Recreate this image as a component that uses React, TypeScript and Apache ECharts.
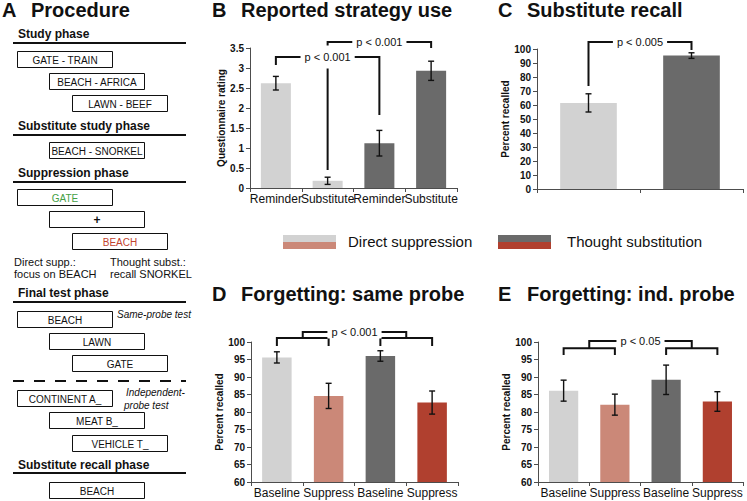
import { useEffect, useRef } from 'react';
import * as echarts from 'echarts';

const FONT = '"Liberation Sans", Arial, Helvetica, sans-serif';
const INK = '#111111';
const AXIS = '#4d4d4d';

// ---------- data ----------
// B: Reported strategy use
const strategyCategories = ['Reminder', 'Substitute', 'Reminder', 'Substitute'];
const strategyMeans = [2.62, 0.18, 1.12, 2.93];
const strategyErrors = [0.17, 0.09, 0.32, 0.24];
// [leftCatA, leftCatB, rightCatA, rightCatB, leftEndY, rightEndY, topY]
const strategyBrackets = [
  [0, 0, 2, 2, 3.075, 1.825, 3.275],
  [1, 1, 3, 3, 0.45, 3.5, 3.65],
];
const strategyBracketLabels = ['p < 0.001', 'p < 0.001'];

// C: Substitute recall
const recallCategories = ['Direct suppression', 'Thought substitution'];
const recallMeans = [61.5, 95.3];
const recallErrors = [6.5, 2.0];
const recallBrackets = [[0, 0, 1, 1, 73.6, 99.3, 105]];
const recallBracketLabels = ['p < 0.005'];

// D: Forgetting, same probe
const forgetCategories = ['Baseline', 'Suppress', 'Baseline', 'Suppress'];
const sameProbeMeans = [95.6, 84.6, 96.0, 82.7];
const sameProbeErrors = [1.6, 3.6, 1.5, 3.3];
const sameProbeBrackets = [
  [0, 0, 1, 1, 98.86, 98.86, 101.14],
  [2, 2, 3, 3, 98.86, 98.86, 101.14],
  [0, 1, 2, 3, 101.14, 101.14, 102.86],
];
const sameProbeBracketLabels = ['', '', 'p < 0.001'];

// E: Forgetting, independent probe
const indProbeMeans = [86.1, 82.1, 89.2, 83.0];
const indProbeErrors = [3.0, 3.0, 4.2, 2.8];
const indProbeBrackets = [
  [0, 0, 1, 1, 96.3, 96.3, 98.2],
  [2, 2, 3, 3, 96.3, 96.3, 98.2],
  [0, 1, 2, 3, 98.2, 98.2, 100.3],
];
const indProbeBracketLabels = ['', '', 'p < 0.05'];

const legendLabels = ['Direct suppression', 'Thought substitution'];

// ---------- styles ----------
const LIGHT_GREY = '#d2d2d2';
const SALMON = '#cb8878';
const DARK_GREY = '#6a6a6a';
const RED = '#b0402f';
const strategyColors = [LIGHT_GREY, LIGHT_GREY, DARK_GREY, DARK_GREY];
const recallColors = [LIGHT_GREY, DARK_GREY];
const forgetColors = [LIGHT_GREY, SALMON, DARK_GREY, RED];

// ---------- procedure diagram (panel A) ----------
const procedurePhases = [
  { title: 'Study phase', y: 34, lineY: 43 },
  { title: 'Substitute study phase', y: 126, lineY: 135 },
  { title: 'Suppression phase', y: 173, lineY: 182 },
  { title: 'Final test phase', y: 293, lineY: 302 },
  { title: 'Substitute recall phase', y: 465, lineY: 473 },
];
const boxCols = [17, 49, 72];
const procedureBoxes = [
  { text: 'GATE - TRAIN', col: 0, y: 51, color: INK, bold: false },
  { text: 'BEACH - AFRICA', col: 1, y: 73, color: INK, bold: false },
  { text: 'LAWN - BEEF', col: 2, y: 95, color: INK, bold: false },
  { text: 'BEACH - SNORKEL', col: 1, y: 142, color: INK, bold: false },
  { text: 'GATE', col: 0, y: 189, color: '#45a045', bold: false },
  { text: '+', col: 1, y: 211, color: INK, bold: true },
  { text: 'BEACH', col: 2, y: 233, color: '#c2432f', bold: false },
  { text: 'BEACH', col: 0, y: 311, color: INK, bold: false },
  { text: 'LAWN', col: 1, y: 333, color: INK, bold: false },
  { text: 'GATE', col: 2, y: 355, color: INK, bold: false },
  { text: 'CONTINENT A_', col: 0, y: 390, color: INK, bold: false },
  { text: 'MEAT B_', col: 1, y: 412, color: INK, bold: false },
  { text: 'VEHICLE T_', col: 2, y: 435, color: INK, bold: false },
  { text: 'BEACH', col: 1, y: 482, color: INK, bold: false },
];
const procedureNotes = [
  { text: 'Direct supp.:', x: 14, y: 262, italic: false },
  { text: 'focus on BEACH', x: 14, y: 274, italic: false },
  { text: 'Thought subst.:', x: 110, y: 262, italic: false },
  { text: 'recall SNORKEL', x: 110, y: 274, italic: false },
  { text: 'Same-probe test', x: 117, y: 314, italic: true },
  { text: 'Independent-', x: 126, y: 392, italic: true },
  { text: 'probe test', x: 124, y: 405, italic: true },
];

const panelTitles = [
  { letter: 'A', text: 'Procedure', x: 2, tx: 31, y: 10 },
  { letter: 'B', text: 'Reported strategy use', x: 212, tx: 241, y: 10 },
  { letter: 'C', text: 'Substitute recall', x: 498, tx: 527, y: 10 },
  { letter: 'D', text: 'Forgetting: same probe', x: 212, tx: 241, y: 294 },
  { letter: 'E', text: 'Forgetting: ind. probe', x: 498, tx: 527, y: 294 },
];

// ---------- render helpers ----------
function errorBarRender(_params: any, api: any) {
  const x = api.value(0);
  const lo = api.coord([x, api.value(1)]);
  const hi = api.coord([x, api.value(2)]);
  const cap = 3;
  const st = { stroke: INK, lineWidth: 1.4 };
  return {
    type: 'group',
    children: [
      { type: 'line', shape: { x1: hi[0], y1: hi[1], x2: lo[0], y2: lo[1] }, style: st },
      { type: 'line', shape: { x1: hi[0] - cap, y1: hi[1], x2: hi[0] + cap, y2: hi[1] }, style: st },
      { type: 'line', shape: { x1: lo[0] - cap, y1: lo[1], x2: lo[0] + cap, y2: lo[1] }, style: st },
    ],
  };
}

function bracketGeom(api: any) {
  const la = api.value(0), lb = api.value(1), ra = api.value(2), rb = api.value(3);
  const yl = api.value(4), yr = api.value(5), yt = api.value(6);
  const pLa = api.coord([la, yt]);
  const pLb = api.coord([lb, yt]);
  const pRa = api.coord([ra, yt]);
  const pRb = api.coord([rb, yt]);
  const xl = (pLa[0] + pLb[0]) / 2;
  const xr = (pRa[0] + pRb[0]) / 2;
  return {
    xl,
    xr,
    yt: pLa[1],
    yl: api.coord([la, yl])[1],
    yr: api.coord([ra, yr])[1],
  };
}

function bracketLineRender(_params: any, api: any) {
  const g = bracketGeom(api);
  return {
    type: 'polyline',
    shape: { points: [[g.xl, g.yl], [g.xl, g.yt], [g.xr, g.yt], [g.xr, g.yr]] },
    style: { stroke: INK, lineWidth: 2, fill: 'none', lineJoin: 'miter', lineCap: 'butt' },
  };
}

function bracketLabelRender(labels: string[], padding: number[]) {
  return (params: any, api: any) => {
    const text = labels[params.dataIndex];
    if (!text) return null;
    const g = bracketGeom(api);
    return {
      type: 'text',
      x: (g.xl + g.xr) / 2,
      y: g.yt,
      style: {
        text,
        fill: INK,
        font: `11px ${FONT}`,
        align: 'center',
        verticalAlign: 'middle',
        backgroundColor: '#ffffff',
        padding,
      },
    };
  };
}

function panelSeries(
  idx: number,
  means: number[],
  errors: number[],
  colors: string[],
  brackets: number[][],
  labels: string[],
  barWidth: string,
  labelPadding: number[]
) {
  return [
    {
      type: 'bar',
      xAxisIndex: idx,
      yAxisIndex: idx,
      barWidth,
      silent: true,
      data: means.map((v, i) => ({ value: v, itemStyle: { color: colors[i] } })),
    },
    {
      type: 'custom',
      xAxisIndex: idx,
      yAxisIndex: idx,
      z: 3,
      silent: true,
      renderItem: errorBarRender,
      data: means.map((m, i) => [i, m - errors[i], m + errors[i]]),
    },
    {
      type: 'custom',
      xAxisIndex: idx,
      yAxisIndex: idx,
      z: 4,
      silent: true,
      renderItem: bracketLineRender,
      data: brackets,
    },
    {
      type: 'custom',
      xAxisIndex: idx,
      yAxisIndex: idx,
      z: 5,
      silent: true,
      renderItem: bracketLabelRender(labels, labelPadding),
      data: brackets,
    },
  ];
}

function makeXAxis(gridIndex: number, data: string[], showLabels: boolean) {
  return {
    type: 'category',
    gridIndex,
    data,
    axisLine: { show: true, lineStyle: { color: AXIS, width: 1 } },
    axisTick: { show: true, length: 4, lineStyle: { color: AXIS } },
    axisLabel: {
      show: showLabels,
      interval: 0,
      hideOverlap: false,
      color: INK,
      fontSize: 12,
      fontFamily: FONT,
      margin: 5,
    },
    splitLine: { show: false },
  };
}

function makeYAxis(gridIndex: number, min: number, max: number, interval: number, name: string, nameGap: number) {
  return {
    type: 'value',
    gridIndex,
    min,
    max,
    interval,
    name,
    nameLocation: 'middle',
    nameGap,
    nameTextStyle: { color: INK, fontSize: 10, fontWeight: 'bold', fontFamily: FONT },
    axisLine: { show: true, lineStyle: { color: AXIS, width: 1 } },
    axisTick: { show: true, length: 4, lineStyle: { color: AXIS } },
    axisLabel: { color: INK, fontSize: 10, fontWeight: 'bold', fontFamily: FONT, margin: 6 },
    splitLine: { show: false },
  };
}

function buildGraphics() {
  const els: any[] = [];
  panelTitles.forEach((t) => {
    els.push({
      type: 'text',
      x: t.x,
      y: t.y,
      style: { text: t.letter, fill: INK, font: `bold 20px ${FONT}`, verticalAlign: 'middle' },
    });
    els.push({
      type: 'text',
      x: t.tx,
      y: t.y,
      style: { text: t.text, fill: INK, font: `bold 20px ${FONT}`, verticalAlign: 'middle' },
    });
  });
  procedurePhases.forEach((p) => {
    els.push({
      type: 'text',
      x: 18,
      y: p.y,
      style: { text: p.title, fill: INK, font: `bold 12px ${FONT}`, verticalAlign: 'middle' },
    });
    els.push({
      type: 'line',
      shape: { x1: 13, y1: p.lineY, x2: 186, y2: p.lineY },
      style: { stroke: INK, lineWidth: 2 },
    });
  });
  procedureBoxes.forEach((b) => {
    const x = boxCols[b.col];
    els.push({
      type: 'rect',
      shape: { x: x + 0.5, y: b.y + 0.5, width: 95, height: 16 },
      style: { fill: '#ffffff', stroke: INK, lineWidth: 1 },
    });
    els.push({
      type: 'text',
      x: x + 48,
      y: b.y + 9,
      style: {
        text: b.text,
        fill: b.color,
        font: `${b.bold ? 'bold 12px' : '10px'} ${FONT}`,
        align: 'center',
        verticalAlign: 'middle',
      },
    });
  });
  procedureNotes.forEach((n) => {
    els.push({
      type: 'text',
      x: n.x,
      y: n.y,
      style: {
        text: n.text,
        fill: INK,
        font: `${n.italic ? 'italic 10px' : '11px'} ${FONT}`,
        verticalAlign: 'middle',
      },
    });
  });
  els.push({
    type: 'line',
    shape: { x1: 13, y1: 381, x2: 186, y2: 381 },
    style: { stroke: INK, lineWidth: 2, lineDash: [11, 10] },
  });
  // legend
  const swatches = [
    { x: 283, top: LIGHT_GREY, bottom: SALMON, tx: 348 },
    { x: 498, top: DARK_GREY, bottom: RED, tx: 567 },
  ];
  swatches.forEach((s, i) => {
    els.push({ type: 'rect', shape: { x: s.x, y: 235, width: 53, height: 7 }, style: { fill: s.top } });
    els.push({ type: 'rect', shape: { x: s.x, y: 242, width: 53, height: 7 }, style: { fill: s.bottom } });
    els.push({
      type: 'text',
      x: s.tx,
      y: 241,
      style: { text: legendLabels[i], fill: INK, font: `15px ${FONT}`, verticalAlign: 'middle' },
    });
  });
  return els;
}

export default function App() {
  const ref = useRef<HTMLDivElement>(null);
  useEffect(() => {
    document.body.style.margin = '0';
    if (!ref.current) return;
    const chart = echarts.init(ref.current, null, { renderer: 'svg' });
    chart.setOption({
      animation: false,
      backgroundColor: '#ffffff',
      textStyle: { fontFamily: FONT },
      grid: [
        { left: 250, top: 48, width: 207, height: 140 },
        { left: 537, top: 49, width: 206, height: 140 },
        { left: 251, top: 342, width: 207, height: 140 },
        { left: 538, top: 342, width: 205, height: 140 },
      ],
      xAxis: [
        makeXAxis(0, strategyCategories, true),
        makeXAxis(1, recallCategories, false),
        makeXAxis(2, forgetCategories, true),
        makeXAxis(3, forgetCategories, true),
      ],
      yAxis: [
        makeYAxis(0, 0, 3.5, 0.5, 'Questionnaire rating', 23),
        makeYAxis(1, 0, 100, 10, 'Percent recalled', 26),
        makeYAxis(2, 60, 100, 5, 'Percent recalled', 26),
        makeYAxis(3, 60, 100, 5, 'Percent recalled', 27),
      ],
      series: [
        ...panelSeries(0, strategyMeans, strategyErrors, strategyColors, strategyBrackets, strategyBracketLabels, '58%', [6, 4]),
        ...panelSeries(1, recallMeans, recallErrors, recallColors, recallBrackets, recallBracketLabels, '55%', [1, 4]),
        ...panelSeries(2, sameProbeMeans, sameProbeErrors, forgetColors, sameProbeBrackets, sameProbeBracketLabels, '57%', [1, 4]),
        ...panelSeries(3, indProbeMeans, indProbeErrors, forgetColors, indProbeBrackets, indProbeBracketLabels, '57%', [1, 4]),
      ],
      graphic: buildGraphics(),
    });
    return () => chart.dispose();
  }, []);
  return (
    <div
      ref={ref}
      style={{ width: 747, height: 501, position: 'absolute', left: 0, top: 0 }}
    />
  );
}
